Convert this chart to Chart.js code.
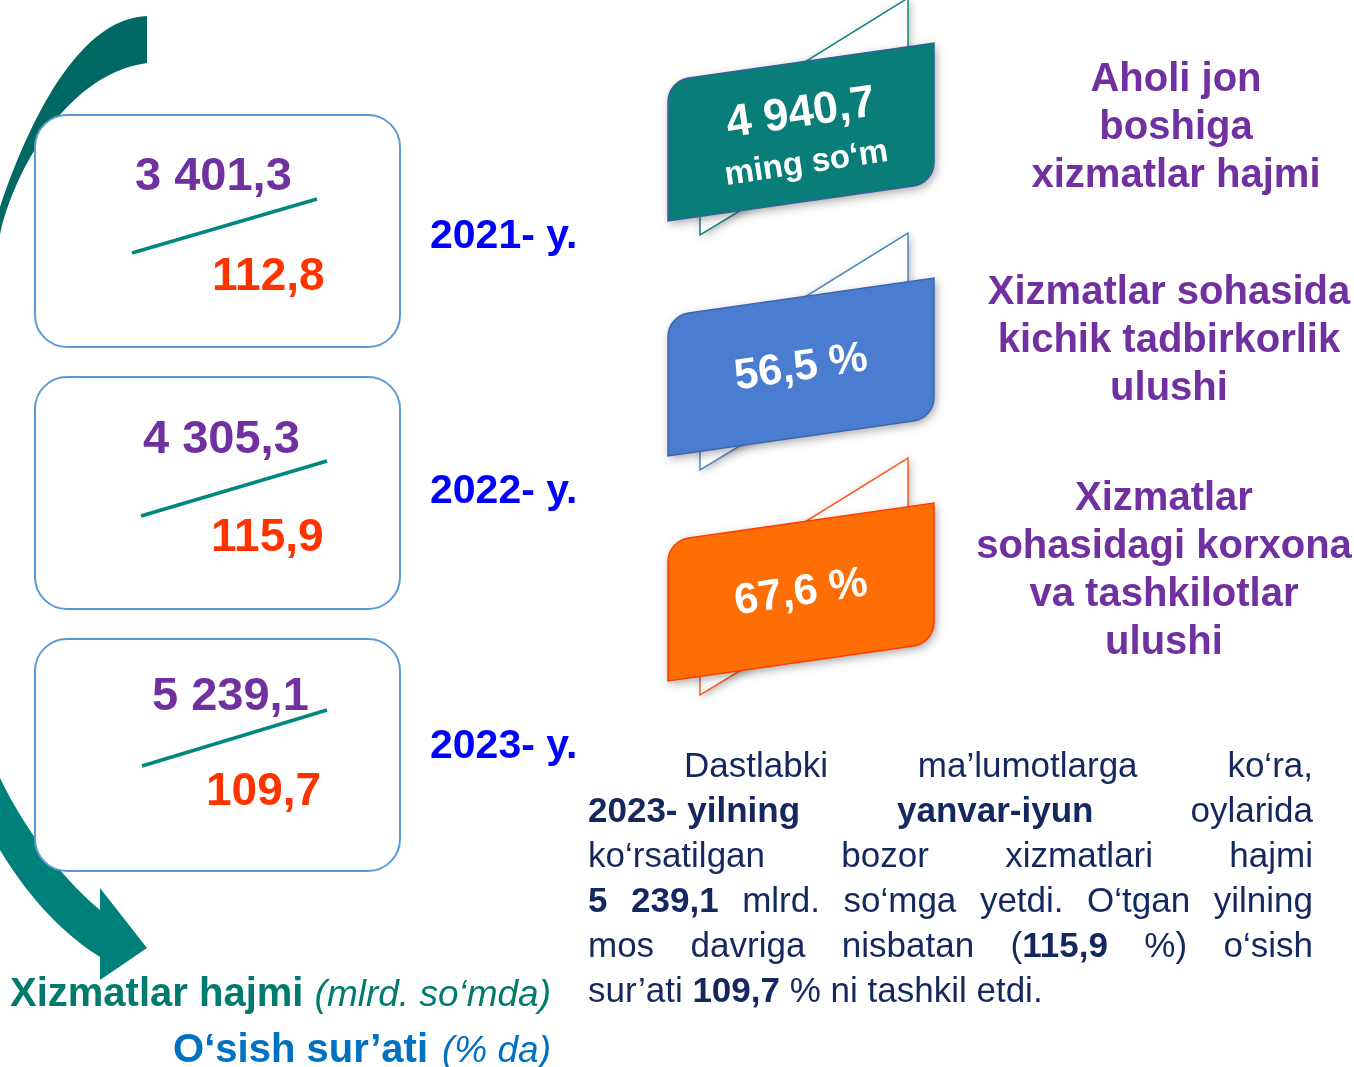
<!DOCTYPE html>
<html lang="uz">
<head>
<meta charset="utf-8">
<title>Xizmatlar hajmi</title>
<script src="https://cdn.jsdelivr.net/npm/chart.js@4.4.1/dist/chart.umd.min.js"></script>
<style>
  html, body { margin: 0; padding: 0; background: #fff; }
  #wrap { position: relative; width: 1354px; height: 1067px; overflow: hidden; }
  #board { position: absolute; left: 0; top: 0; }
  #note {
    position: absolute; left: 588px; top: 742px; width: 725px;
    font-family: "Liberation Sans", Arial, sans-serif; font-size: 35px; color: #14285f;
  }
  #note div { height: 45px; line-height: 45px; text-align: justify; text-align-last: justify; }
  #note div.first { padding-left: 96px; }
  #note div.last { text-align: left; text-align-last: left; }
  #note .keep { display: inline-block; white-space: nowrap; }
</style>
</head>
<body>
<div id="wrap">
  <canvas id="board" width="1354" height="1067"></canvas>
  <div id="note">
    <div class="first">Dastlabki ma’lumotlarga ko‘ra,</div>
    <div><b class="keep">2023- yilning</b> <b>yanvar-iyun</b> oylarida</div>
    <div>ko‘rsatilgan bozor xizmatlari hajmi</div>
    <div><b>5 239,1</b> mlrd. so‘mga yetdi. O‘tgan yilning</div>
    <div>mos davriga nisbatan (<b>115,9</b> %) o‘sish</div>
    <div class="last">sur’ati <b>109,7</b> % ni tashkil etdi.</div>
  </div>
</div>
<script>
// data
const years = ['2021- y.', '2022- y.', '2023- y.'];
const volumes = [3401.3, 4305.3, 5239.1];      // mlrd. so'm
const growth = [112.8, 115.9, 109.7];          // %
const indicatorValues = [4940.7, 56.5, 67.6];
const indicatorUnits = ['ming so‘m', '%', '%'];
const indicatorLabels = [
    ['Aholi jon', 'boshiga', 'xizmatlar hajmi'],
    ['Xizmatlar sohasida', 'kichik tadbirkorlik', 'ulushi'],
    ['Xizmatlar', 'sohasidagi korxona', 'va tashkilotlar', 'ulushi']
];
const legendNames = ['Xizmatlar hajmi', 'O‘sish sur’ati'];
const legendUnits = ['(mlrd. so‘mda)', '(% da)'];

// layout
const FONT = '"Liberation Sans", Arial, sans-serif';
const W = 1354, H = 1067;
const boxTops = [115, 377, 639];
const volPos = [[135, 190], [143, 453], [152, 710]];
const growPos = [[212, 290], [211, 551], [206, 805]];
const slashPos = [[132, 253, 317, 199], [141, 516, 327, 461], [142, 766, 327, 710]];
const yearBase = [248, 503, 758];
const bannerTops = [43, 278, 503];
const bannerFill = ['#097d77', '#4a7ccf', '#ff6e05'];
const bannerEdge = ['#35609a', '#3d65b0', '#ff3c00'];
const foldEdge = ['#13877f', '#4f86c6', '#ff5a1f'];
const labelX = [1176, 1169, 1164];
const labelBase = [91, 304, 510];

function fmtNum(v) {
    const parts = v.toFixed(1).split('.');
    return parts[0].replace(/\B(?=(\d{3})+(?!\d))/g, ' ') + ',' + parts[1];
}

function text(ctx, str, x, y, font, color, align) {
    ctx.font = font;
    ctx.fillStyle = color;
    ctx.textAlign = align || 'left';
    ctx.textBaseline = 'alphabetic';
    ctx.fillText(str, x, y);
}

function drawArrow(ctx) {
    const g = ctx.createLinearGradient(0, 0, 0, H);
    g.addColorStop(0.2, '#006862');
    g.addColorStop(0.7, '#00807a');
    ctx.beginPath();
    ctx.moveTo(147, 16);
    ctx.bezierCurveTo(90, 18, 40, 90, 0, 207);
    ctx.lineTo(-6, 230);
    ctx.lineTo(-6, 840);
    ctx.lineTo(0, 850);
    ctx.bezierCurveTo(30, 900, 65, 935, 100, 957);
    ctx.lineTo(100, 980);
    ctx.lineTo(147, 948);
    ctx.lineTo(100, 888);
    ctx.lineTo(100, 910);
    ctx.bezierCurveTo(70, 885, 30, 840, 0, 778);
    ctx.lineTo(-6, 770);
    ctx.lineTo(-6, 245);
    ctx.lineTo(0, 235);
    ctx.bezierCurveTo(10, 185, 60, 75, 147, 63);
    ctx.closePath();
    ctx.fillStyle = g;
    ctx.fill();
}

function roundBox(ctx, x, y, w, h, r) {
    ctx.beginPath();
    ctx.moveTo(x + r, y);
    ctx.arcTo(x + w, y, x + w, y + h, r);
    ctx.arcTo(x + w, y + h, x, y + h, r);
    ctx.arcTo(x, y + h, x, y, r);
    ctx.arcTo(x, y, x + w, y, r);
    ctx.closePath();
}

function drawBanner(ctx, i) {
    const t = bannerTops[i];
    const L = 668, R = 934, bh = 140, skew = 38, r = 24;
    const B = t + skew + bh;

    // folded back strip
    ctx.save();
    ctx.shadowColor = 'rgba(0,0,0,0.3)';
    ctx.shadowBlur = 8;
    ctx.shadowOffsetX = 2;
    ctx.shadowOffsetY = 2;
    ctx.beginPath();
    ctx.moveTo(700, t + 84);
    ctx.lineTo(908, t - 45);
    ctx.lineTo(908, B - 112);
    ctx.lineTo(700, B + 14);
    ctx.closePath();
    ctx.fillStyle = '#fff';
    ctx.fill();
    ctx.restore();
    ctx.strokeStyle = foldEdge[i];
    ctx.lineWidth = 1.5;
    ctx.stroke();

    // front strip
    ctx.save();
    ctx.shadowColor = 'rgba(0,0,0,0.35)';
    ctx.shadowBlur = 10;
    ctx.shadowOffsetX = 2;
    ctx.shadowOffsetY = 3;
    ctx.beginPath();
    ctx.moveTo(L, B);
    ctx.arcTo(L, t + skew, R, t, r);
    ctx.lineTo(R, t);
    ctx.arcTo(R, t + bh, L, B, r);
    ctx.lineTo(L, B);
    ctx.closePath();
    ctx.fillStyle = bannerFill[i];
    ctx.fill();
    ctx.restore();
    ctx.strokeStyle = bannerEdge[i];
    ctx.lineWidth = 1.5;
    ctx.stroke();

    // value
    ctx.save();
    ctx.translate(801, i === 0 ? t + 71 : t + 90);
    ctx.rotate(-8.5 * Math.PI / 180);
    ctx.textBaseline = 'middle';
    ctx.textAlign = 'center';
    ctx.fillStyle = '#fff';
    if (i === 0) {
        ctx.font = 'bold 45px ' + FONT;
        ctx.fillText(fmtNum(indicatorValues[i]), 0, 0);
        ctx.font = 'bold 33px ' + FONT;
        ctx.fillText(indicatorUnits[i], -2, 50);
    } else {
        ctx.font = 'bold 43px ' + FONT;
        ctx.fillText(fmtNum(indicatorValues[i]) + ' ' + indicatorUnits[i], 0, 0);
    }
    ctx.restore();
}

const infographic = {
    id: 'infographic',
    afterDraw(chart) {
        const ctx = chart.ctx;
        const xs = chart.scales.x, ys = chart.scales.y;
        const x0 = xs.getPixelForValue(0), y0 = ys.getPixelForValue(0);
        const kx = (xs.getPixelForValue(W) - x0) / W;
        const ky = (ys.getPixelForValue(H) - y0) / H;
        ctx.save();
        ctx.setTransform(kx, 0, 0, ky, x0, y0);

        drawArrow(ctx);

        // yearly boxes
        years.forEach((yr, i) => {
            const top = boxTops[i];
            roundBox(ctx, 35, top, 365, 232, 32);
            ctx.fillStyle = '#fff';
            ctx.fill();
            ctx.strokeStyle = '#5b9bd5';
            ctx.lineWidth = 2;
            ctx.stroke();

            text(ctx, fmtNum(volumes[i]), volPos[i][0], volPos[i][1], 'bold 47px ' + FONT, '#7030a0');
            const s = slashPos[i];
            ctx.beginPath();
            ctx.moveTo(s[0], s[1]);
            ctx.lineTo(s[2], s[3]);
            ctx.strokeStyle = '#00877f';
            ctx.lineWidth = 3.5;
            ctx.stroke();
            text(ctx, fmtNum(growth[i]), growPos[i][0], growPos[i][1], 'bold 46px ' + FONT, '#ff3300');

            text(ctx, yr, 430, yearBase[i], 'bold 41px ' + FONT, '#0000ff');
        });

        // indicator ribbons and captions
        indicatorValues.forEach((v, i) => {
            drawBanner(ctx, i);
            indicatorLabels[i].forEach((line, k) => {
                text(ctx, line, labelX[i], labelBase[i] + k * 48, 'bold 40px ' + FONT, '#7030a0', 'center');
            });
        });

        // legend
        text(ctx, legendNames[0], 10, 1006, 'bold 40px ' + FONT, '#007a6e');
        text(ctx, legendUnits[0], 551, 1006, 'italic 37px ' + FONT, '#007a6e', 'right');
        ctx.font = 'italic 37px ' + FONT;
        const uw = ctx.measureText(legendUnits[1]).width;
        text(ctx, legendUnits[1], 551, 1062, 'italic 37px ' + FONT, '#0070c0', 'right');
        text(ctx, legendNames[1], 551 - uw - 14, 1062, 'bold 40px ' + FONT, '#0070c0', 'right');

        ctx.restore();
    }
};

new Chart(document.getElementById('board'), {
    type: 'scatter',
    data: { datasets: [{ data: [], pointRadius: 0 }] },
    options: {
        responsive: false,
        animation: false,
        devicePixelRatio: 1,
        layout: { padding: 0 },
        plugins: { legend: { display: false }, tooltip: { enabled: false } },
        scales: {
            x: { type: 'linear', min: 0, max: W, display: false },
            y: { type: 'linear', min: 0, max: H, reverse: true, display: false }
        }
    },
    plugins: [infographic]
});
</script>
</body>
</html>
